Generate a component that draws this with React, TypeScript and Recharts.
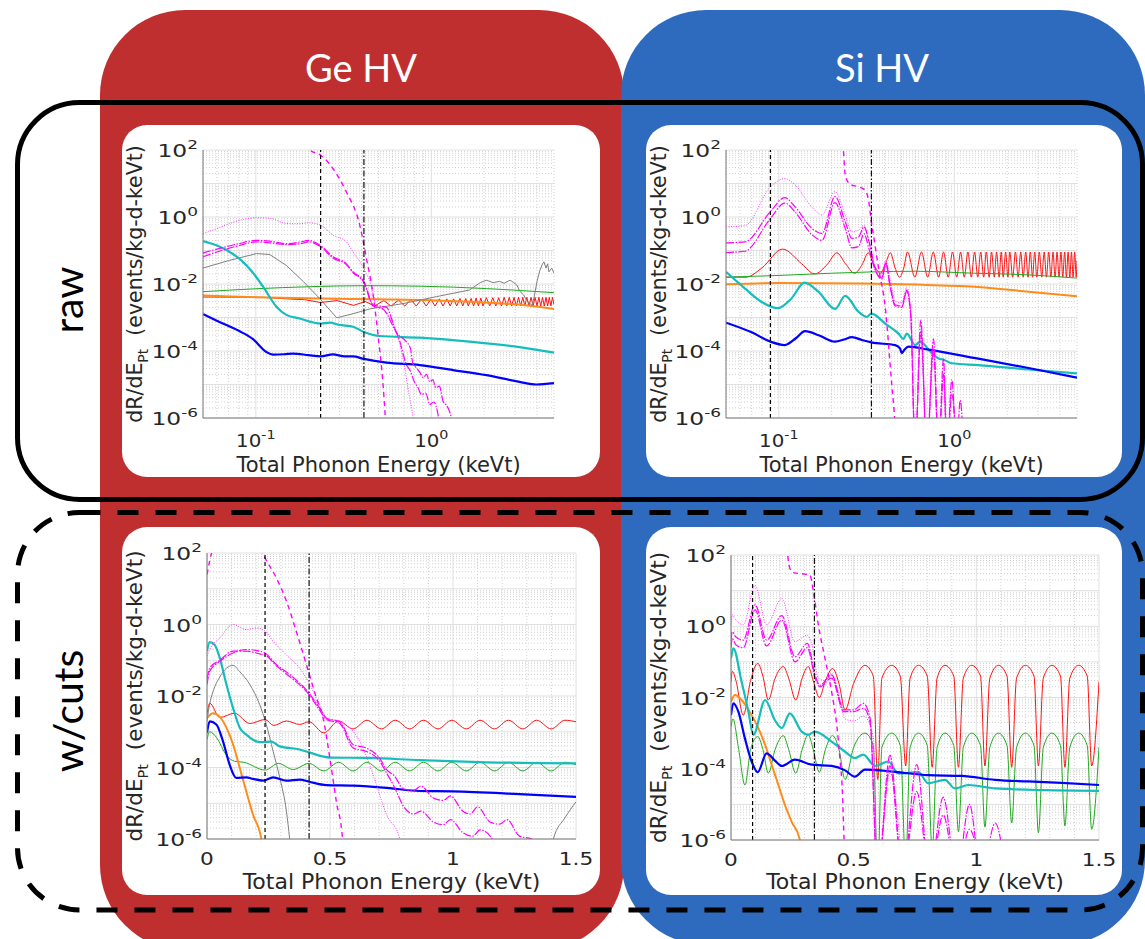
import React from "react";
import { LineChart, Line, XAxis, YAxis, CartesianGrid, ReferenceLine } from "recharts";

type Pt = [number, number];

// ---------- Ge HV, raw (log energy axis) ----------
const geRawBlue: Pt[] = [[0.05,1.26e-3],[0.062,7.4e-4],[0.08,4.0e-4],[0.096,2.3e-4],[0.115,9.3e-5],[0.125,7.8e-5],[0.145,8.0e-5],[0.163,8.4e-5],[0.2,7.5e-5],[0.234,6.9e-5],[0.275,7.9e-5],[0.32,6.9e-5],[0.358,6.9e-5],[0.413,5.8e-5],[0.555,4.5e-5],[0.86,3.8e-5],[1.33,2.7e-5],[2.06,1.9e-5],[3.18,1.2e-5],[3.96,1.0e-5],[5,1.1e-5]];
const geRawCyan: Pt[] = [[0.05,0.19],[0.06,0.14],[0.071,0.09],[0.083,0.05],[0.096,0.022],[0.11,8.3e-3],[0.131,2.1e-3],[0.149,1.2e-3],[0.178,9.3e-4],[0.234,6.6e-4],[0.264,7.0e-4],[0.3,6.0e-4],[0.358,5.3e-4],[0.413,3.7e-4],[0.508,2.8e-4],[0.86,2.5e-4],[1.65,1.9e-4],[3.18,1.3e-4],[5,8.9e-5]];
const geRawGreen: Pt[] = [[0.05,5.9e-3],[0.1,7.2e-3],[0.2,8.3e-3],[0.41,8.9e-3],[0.86,8.6e-3],[2.06,7.3e-3],[5,5.5e-3]];
const geRawOrange: Pt[] = [[0.05,4.5e-3],[0.1,4.0e-3],[0.234,3.7e-3],[0.5,3.5e-3],[1,3.3e-3],[2,2.8e-3],[3.5,2.3e-3],[5,1.8e-3]];
const geRawRed: Pt[] = [[0.05,4.1e-3],[0.11,4.0e-3],[0.15,3.6e-3],[0.19,3.4e-3],[0.234,2.8e-3],[0.29,3.2e-3],[0.36,2.3e-3],[0.42,3.0e-3],[0.475,2.2e-3],[0.535,3.2e-3],[0.59,2.2e-3],[0.65,3.3e-3],[0.705,2.2e-3],[0.765,3.4e-3],[0.82,2.2e-3],[0.88,3.5e-3],[0.935,2.2e-3],[0.995,3.5e-3],[1.05,2.2e-3],[1.11,3.6e-3],[1.165,2.2e-3],[1.225,3.6e-3],[1.28,2.2e-3],[1.34,3.6e-3],[1.395,2.2e-3],[1.455,3.7e-3],[1.51,2.2e-3],[1.57,3.7e-3],[1.625,2.2e-3],[1.685,3.7e-3],[1.74,2.2e-3],[1.8,3.8e-3],[1.855,2.2e-3],[1.915,3.8e-3],[1.97,2.2e-3],[2.06,3.9e-3],[2.15,2.2e-3],[2.24,3.9e-3],[2.33,2.2e-3],[2.42,3.9e-3],[2.51,2.2e-3],[2.6,4.0e-3],[2.69,2.2e-3],[2.78,4.0e-3],[2.87,2.2e-3],[2.96,4.0e-3],[3.05,2.2e-3],[3.14,4.0e-3],[3.23,2.2e-3],[3.32,4.0e-3],[3.41,2.2e-3],[3.5,4.0e-3],[3.6,2.2e-3],[3.7,4.0e-3],[3.8,2.2e-3],[3.9,4.0e-3],[4.0,2.2e-3],[4.1,4.0e-3],[4.2,2.2e-3],[4.3,4.0e-3],[4.4,2.2e-3],[4.5,4.0e-3],[4.6,2.2e-3],[4.7,4.0e-3],[4.8,2.2e-3],[4.9,4.0e-3],[5,2.4e-3]];
const geRawGray: Pt[] = [[0.05,0.03],[0.071,0.051],[0.101,0.081],[0.12,0.076],[0.149,0.036],[0.186,0.012],[0.231,3.7e-3],[0.289,9.8e-4],[0.358,1.3e-3],[0.446,1.8e-3],[0.69,2.6e-3],[1.07,4.2e-3],[1.65,6.6e-3],[1.9,0.011],[2.06,0.013],[2.25,0.011],[2.45,0.012],[2.6,0.0105],[2.81,0.013],[2.95,0.011],[3.07,9.3e-3],[3.2,6.0e-3],[3.36,4.7e-3],[3.5,3.2e-3],[3.75,2.3e-3],[3.85,4.0e-3],[4.0,0.012],[4.15,0.025],[4.3,0.04],[4.38,0.046],[4.5,0.03],[4.6,0.04],[4.68,0.023],[4.85,0.03],[5,0.021]];
const geRawMagDot: Pt[] = [[0.05,0.32],[0.06,0.45],[0.07,0.62],[0.085,0.85],[0.1,0.95],[0.12,0.92],[0.149,0.64],[0.175,0.63],[0.2,0.67],[0.234,0.57],[0.275,0.29],[0.328,0.18],[0.358,0.09],[0.413,0.029],[0.446,0.012],[0.486,2.3e-3],[0.55,1.5e-3],[0.632,3.7e-4],[0.69,6.0e-5],[0.753,3.8e-6],[0.787,1e-6],[0.82,1e-7]];
const geRawMagDD1: Pt[] = [[0.05,0.085],[0.06,0.11],[0.08,0.16],[0.1,0.2],[0.12,0.19],[0.149,0.16],[0.18,0.18],[0.2,0.2],[0.234,0.14],[0.275,0.065],[0.328,0.04],[0.358,0.023],[0.413,0.012],[0.466,2.4e-3],[0.555,2.0e-3],[0.632,3.7e-4],[0.72,1.9e-4],[0.76,1.2e-4],[0.787,4.0e-5],[0.82,3.2e-5],[0.86,2.3e-5],[0.9,1.6e-5],[0.938,2.0e-5],[0.98,1.2e-5],[1.02,1.4e-5],[1.06,8.0e-6],[1.11,9.0e-6],[1.17,3.0e-6],[1.22,2.4e-6],[1.3,1e-6],[1.35,1e-7]];
const geRawMagDD2: Pt[] = [[0.05,0.065],[0.06,0.09],[0.08,0.14],[0.1,0.18],[0.12,0.17],[0.149,0.15],[0.18,0.16],[0.2,0.18],[0.234,0.13],[0.275,0.06],[0.328,0.038],[0.358,0.022],[0.413,0.011],[0.466,2.2e-3],[0.53,1.8e-3],[0.6,6.0e-4],[0.66,2.0e-4],[0.72,4.0e-5],[0.76,2.5e-5],[0.8,1.2e-5],[0.84,8.0e-6],[0.88,5.0e-6],[0.93,5.5e-6],[0.98,2.5e-6],[1.03,3.0e-6],[1.1,1e-6],[1.15,1e-7]];
const geRawMagDash: Pt[] = [[0.19,300],[0.203,100],[0.234,70],[0.275,28],[0.328,5.6],[0.391,0.57],[0.427,0.058],[0.466,4.7e-3],[0.497,3.0e-4],[0.531,9.5e-6],[0.547,1e-6],[0.56,1e-7]];

// ---------- Si HV, raw (log energy axis) ----------
const siRawBlue: Pt[] = [[0.05,7.0e-4],[0.07,3.6e-4],[0.0895,1.9e-4],[0.108,1.5e-4],[0.125,2.4e-4],[0.141,3.9e-4],[0.17,2.9e-4],[0.209,1.9e-4],[0.235,2.2e-4],[0.261,2.6e-4],[0.3,2.1e-4],[0.337,1.8e-4],[0.46,1.5e-4],[0.49,1.2e-4],[0.502,8.7e-5],[0.52,1.1e-4],[0.548,1.35e-4],[0.713,1.1e-4],[1.37,5.9e-5],[2.65,3.1e-5],[5,1.6e-5]];
const siRawCyan: Pt[] = [[0.05,0.023],[0.064,7.4e-3],[0.08,2.9e-3],[0.099,1.9e-3],[0.118,3.7e-3],[0.14,0.011],[0.168,5.9e-3],[0.209,1.8e-3],[0.239,4.4e-3],[0.284,1.5e-3],[0.317,1.05e-3],[0.337,1.3e-3],[0.404,6.6e-4],[0.481,3.3e-4],[0.513,2.3e-4],[0.536,3.3e-4],[0.598,1.5e-4],[0.638,1.9e-4],[0.744,8.6e-5],[0.813,6.0e-5],[0.87,5.5e-5],[0.968,4.3e-5],[1.37,3.8e-5],[2.65,2.8e-5],[5,2.15e-5]];
const siRawGreen: Pt[] = [[0.05,0.016],[0.1,0.018],[0.2,0.021],[0.34,0.023],[0.6,0.024],[1.3,0.021],[2.5,0.019],[5,0.015]];
const siRawOrange: Pt[] = [[0.05,9.8e-3],[0.1,0.0107],[0.3,0.0103],[0.6,9.6e-3],[1.3,8.3e-3],[2.65,5.9e-3],[5,4.3e-3]];
const siRawRed: Pt[] = [[0.05,0.016],[0.065,0.016],[0.08,0.03],[0.105,0.11],[0.135,0.04],[0.16,0.02],[0.19,0.04],[0.214,0.085],[0.24,0.04],[0.27,0.021],[0.3,0.04],[0.323,0.085],[0.35,0.035],[0.38,0.021],[0.405,0.04],[0.432,0.085],[0.46,0.03],[0.487,0.016],[0.515,0.03],[0.541,0.09],[0.596,0.016],[0.65,0.09],[0.705,0.016],[0.759,0.09],[0.814,0.016],[0.868,0.09],[0.923,0.016],[0.977,0.09],[1.032,0.016],[1.086,0.09],[1.14,0.016],[1.195,0.09],[1.25,0.016],[1.304,0.09],[1.36,0.016],[1.413,0.09],[1.47,0.016],[1.52,0.09],[1.58,0.016],[1.63,0.09],[1.69,0.016],[1.74,0.09],[1.8,0.016],[1.85,0.09],[1.9,0.016],[1.96,0.09],[2.02,0.016],[2.07,0.09],[2.15,0.016],[2.23,0.09],[2.31,0.016],[2.39,0.09],[2.47,0.016],[2.55,0.09],[2.63,0.016],[2.71,0.09],[2.79,0.016],[2.87,0.09],[2.95,0.016],[3.05,0.09],[3.15,0.016],[3.25,0.09],[3.35,0.016],[3.45,0.09],[3.55,0.016],[3.65,0.09],[3.75,0.016],[3.85,0.09],[3.95,0.016],[4.05,0.09],[4.15,0.016],[4.25,0.09],[4.35,0.016],[4.45,0.09],[4.55,0.016],[4.65,0.09],[4.75,0.016],[4.85,0.09],[4.95,0.016],[5,0.05]];
const siRawMagDot: Pt[] = [[0.05,0.51],[0.064,0.55],[0.0895,7.9],[0.108,14],[0.124,9],[0.154,2.0],[0.176,1.15],[0.209,5.7],[0.239,1.15],[0.261,0.36],[0.284,0.4],[0.306,0.57],[0.32,0.29],[0.337,0.1],[0.354,0.03],[0.386,0.02],[0.407,0.05],[0.431,0.013],[0.46,3.0e-3],[0.502,2.8e-3],[0.536,8.0e-3],[0.565,1.6e-3],[0.598,1e-7],[0.644,3.0e-4],[0.697,1e-7],[0.761,8.0e-5],[0.813,1e-7],[0.868,1.5e-5],[0.907,1e-7]];
const siRawMagDD1: Pt[] = [[0.05,0.17],[0.064,0.18],[0.0895,1.45],[0.108,3.8],[0.124,2.0],[0.154,0.46],[0.176,0.32],[0.209,4.1],[0.239,0.72],[0.261,0.23],[0.284,0.25],[0.306,0.51],[0.325,0.2],[0.354,0.029],[0.386,0.015],[0.407,0.044],[0.431,9.0e-3],[0.46,2.4e-3],[0.502,2.2e-3],[0.536,6.6e-3],[0.565,1.2e-3],[0.598,1e-7],[0.644,8.3e-4],[0.697,1e-7],[0.761,2.3e-4],[0.813,1e-7],[0.868,6.0e-5],[0.907,1e-7],[0.968,1.4e-5],[1.03,1e-7],[1.08,3.4e-6],[1.13,1e-7]];
const siRawMagDD2: Pt[] = [[0.05,0.087],[0.064,0.095],[0.0895,0.9],[0.108,2.6],[0.124,1.4],[0.154,0.3],[0.176,0.2],[0.209,2.7],[0.239,0.45],[0.261,0.12],[0.284,0.13],[0.306,0.32],[0.325,0.12],[0.354,0.026],[0.386,0.014],[0.407,0.04],[0.431,8.0e-3],[0.46,2.2e-3],[0.502,2.0e-3],[0.536,6.0e-3],[0.565,1.0e-3],[0.598,1e-7],[0.644,4.0e-4],[0.697,1e-7],[0.761,1.2e-4],[0.813,1e-7],[0.868,2.0e-5],[0.907,1e-7],[0.968,5.0e-6],[1.03,1e-7]];
const siRawMagDash: Pt[] = [[0.22,300],[0.233,100],[0.239,18],[0.255,9.4],[0.284,8],[0.31,6.3],[0.325,3],[0.337,0.7],[0.35,0.2],[0.37,0.03],[0.404,2.0e-3],[0.44,1.0e-5],[0.457,1e-6],[0.47,1e-7]];

// ---------- Ge HV, with cuts (linear energy axis) ----------
const geCutBlue: Pt[] = [[0,9.4e-4],[0.011,1.95e-3],[0.038,1.6e-3],[0.065,5.4e-4],[0.092,1.2e-4],[0.119,5.1e-5],[0.16,5.3e-5],[0.187,4.8e-5],[0.228,4.3e-5],[0.269,5.3e-5],[0.323,4.3e-5],[0.377,4.6e-5],[0.415,4.0e-5],[0.486,3.2e-5],[0.594,3.1e-5],[0.73,2.7e-5],[0.865,2.2e-5],[1.0,2.15e-5],[1.27,1.8e-5],[1.5,1.5e-5]];
const geCutCyan: Pt[] = [[0,0.18],[0.011,0.32],[0.031,0.27],[0.052,0.115],[0.079,0.021],[0.106,4.6e-3],[0.133,1.3e-3],[0.16,8.3e-4],[0.214,5.1e-4],[0.262,5.3e-4],[0.296,3.9e-4],[0.377,3.2e-4],[0.418,2.6e-4],[0.499,1.9e-4],[0.662,1.85e-4],[0.865,1.6e-4],[1.137,1.4e-4],[1.5,1.3e-4]];
const geCutGreen: Pt[] = [[0,6.0e-4],[0.011,1.0e-3],[0.038,7.0e-4],[0.079,2.2e-4],[0.112,1.5e-4],[0.15,1.4e-4],[0.236,8.5e-5],[0.29,1.3e-4],[0.35,8.8e-5],[0.415,1.3e-4],[0.475,8.0e-5],[0.535,1.4e-4],[0.594,8.0e-5],[0.65,1.4e-4],[0.709,8.0e-5],[0.765,1.4e-4],[0.824,8.0e-5],[0.88,1.4e-4],[0.939,8.0e-5],[0.995,1.4e-4],[1.054,8.0e-5],[1.11,1.4e-4],[1.169,8.0e-5],[1.225,1.4e-4],[1.284,8.0e-5],[1.34,1.4e-4],[1.399,8.0e-5],[1.455,1.4e-4],[1.5,1.2e-4]];
const geCutOrange: Pt[] = [[0,2.4e-3],[0.024,3.3e-3],[0.052,2.6e-3],[0.079,1.3e-3],[0.106,4.4e-4],[0.133,9.8e-5],[0.16,2.1e-5],[0.187,4.8e-6],[0.221,1e-6],[0.24,1e-7]];
const geCutRed: Pt[] = [[0,3.0e-3],[0.011,6.3e-3],[0.052,2.5e-3],[0.112,3.3e-3],[0.174,1.7e-3],[0.236,2.2e-3],[0.271,1.5e-3],[0.323,2.0e-3],[0.377,1.6e-3],[0.415,1.9e-3],[0.475,9.3e-4],[0.535,2.0e-3],[0.594,1.2e-3],[0.65,2.1e-3],[0.709,1.2e-3],[0.765,2.1e-3],[0.824,1.2e-3],[0.88,2.1e-3],[0.939,1.2e-3],[0.995,2.1e-3],[1.054,1.2e-3],[1.11,2.1e-3],[1.169,1.2e-3],[1.225,2.1e-3],[1.284,1.2e-3],[1.34,2.1e-3],[1.399,1.2e-3],[1.455,2.1e-3],[1.5,1.9e-3]];
const geCutGray: Pt[] = [[0,2.0e-3],[0.011,6.0e-3],[0.024,0.013],[0.052,0.034],[0.079,0.06],[0.106,0.072],[0.133,0.048],[0.174,0.021],[0.214,5.8e-3],[0.241,1.6e-3],[0.269,2.8e-4],[0.296,5.1e-5],[0.323,5.9e-6],[0.336,1e-6],[0.35,1e-7],[1.39,1e-7],[1.408,1e-6],[1.455,3.9e-6],[1.5,1.1e-5]];
const geCutMagDot: Pt[] = [[0,0.13],[0.011,0.2],[0.052,0.42],[0.106,1.0],[0.16,0.72],[0.2,0.8],[0.236,0.65],[0.269,0.34],[0.323,0.14],[0.377,0.06],[0.415,0.023],[0.445,8.7e-3],[0.486,2.4e-3],[0.54,1.9e-3],[0.58,1.3e-3],[0.621,5.4e-4],[0.675,6.3e-5],[0.73,4.8e-6],[0.784,1e-6],[0.8,1e-7]];
const geCutMagDD1: Pt[] = [[0,0.021],[0.011,0.049],[0.052,0.093],[0.106,0.16],[0.16,0.2],[0.214,0.18],[0.236,0.16],[0.282,0.076],[0.336,0.04],[0.415,0.012],[0.458,4.6e-3],[0.486,2.4e-3],[0.54,1.9e-3],[0.594,4.4e-4],[0.648,3.5e-4],[0.702,1.8e-4],[0.73,8.7e-5],[0.76,6.0e-5],[0.8,2.5e-5],[0.84,2.3e-5],[0.87,3.0e-5],[0.92,1.4e-5],[0.96,1.2e-5],[0.99,1.6e-5],[1.04,6.0e-6],[1.07,5.0e-6],[1.1,8.0e-6],[1.15,3.0e-6],[1.19,2.6e-6],[1.22,3.5e-6],[1.27,1.2e-6],[1.32,1e-6],[1.34,1e-7]];
const geCutMagDD2: Pt[] = [[0,0.03],[0.011,0.06],[0.052,0.1],[0.106,0.18],[0.16,0.18],[0.214,0.15],[0.236,0.14],[0.282,0.07],[0.336,0.035],[0.415,0.011],[0.458,4.0e-3],[0.486,2.2e-3],[0.54,1.7e-3],[0.594,3.5e-4],[0.648,2.8e-4],[0.702,1.5e-4],[0.73,7.0e-5],[0.76,3.0e-5],[0.8,8.0e-6],[0.84,5.0e-6],[0.87,6.0e-6],[0.92,3.0e-6],[0.96,2.5e-6],[0.99,3.5e-6],[1.04,1.5e-6],[1.08,1.2e-6],[1.11,1.8e-6],[1.16,1e-6],[1.2,1e-7]];
const geCutMagDash: Pt[] = [[0,25],[0.011,60],[0.03,200],[0.1,2000],[0.19,300],[0.236,72],[0.282,20],[0.323,4.5],[0.363,0.64],[0.404,0.076],[0.445,8.7e-3],[0.472,2.4e-3],[0.499,1.9e-4],[0.526,1.1e-5],[0.551,1e-6],[0.56,1e-7]];

// ---------- Si HV, with cuts (linear energy axis) ----------
const siCutBlue: Pt[] = [[0,3.2e-3],[0.0095,6.9e-3],[0.03,4.0e-3],[0.057,7.0e-4],[0.084,1.6e-4],[0.109,8.0e-5],[0.145,2.7e-4],[0.179,1.7e-4],[0.207,1.2e-4],[0.261,1.8e-4],[0.329,1.3e-4],[0.41,1.2e-4],[0.465,9.0e-5],[0.505,6.0e-5],[0.546,9.5e-5],[0.668,8.2e-5],[0.804,6.6e-5],[0.94,6.3e-5],[1.076,4.9e-5],[1.212,4.4e-5],[1.348,4.0e-5],[1.5,3.5e-5]];
const siCutCyan: Pt[] = [[0,0.126],[0.0095,0.24],[0.043,0.028],[0.071,4.0e-3],[0.091,8.9e-4],[0.139,8.5e-3],[0.179,2.3e-3],[0.207,1.4e-3],[0.24,3.6e-3],[0.288,1.1e-3],[0.315,9.0e-4],[0.342,1.1e-3],[0.41,5.8e-4],[0.465,3.0e-4],[0.505,2.0e-4],[0.539,2.5e-4],[0.587,1.2e-4],[0.641,1.6e-4],[0.682,7.4e-5],[0.764,8.0e-5],[0.804,3.9e-5],[0.872,4.9e-5],[0.913,2.8e-5],[0.967,3.5e-5],[1.076,2.8e-5],[1.28,2.5e-5],[1.5,2.4e-5]];
const siCutOrange: Pt[] = [[0,7.6e-3],[0.016,0.0117],[0.043,8.5e-3],[0.084,3.2e-3],[0.111,1.4e-3],[0.139,4.7e-4],[0.166,1.3e-4],[0.193,3.5e-5],[0.22,9.6e-6],[0.247,3.3e-6],[0.281,1e-6],[0.3,1e-7]];
const siCutRed: Pt[] = [[0,0.028],[0.006,0.054],[0.02,0.03],[0.05,3.2e-3],[0.08,0.03],[0.109,0.091],[0.13,0.04],[0.152,8.5e-3],[0.18,0.035],[0.213,0.074],[0.235,0.035],[0.264,8.5e-3],[0.29,0.035],[0.315,0.074],[0.335,0.03],[0.36,0.01],[0.385,0.03],[0.414,0.065],[0.44,0.025],[0.465,4.5e-3],[0.5,0.025],[0.546,0.08],[0.58,0.04],[0.598,5.0e-5],[0.615,0.035],[0.655,0.08],[0.69,0.04],[0.712,1.2e-4],[0.73,0.035],[0.764,0.08],[0.8,0.04],[0.82,1.1e-4],[0.84,0.035],[0.872,0.08],[0.908,0.04],[0.927,1.1e-4],[0.947,0.035],[0.981,0.08],[1.017,0.04],[1.035,1.2e-4],[1.055,0.035],[1.09,0.08],[1.125,0.04],[1.144,1.1e-4],[1.164,0.035],[1.2,0.08],[1.235,0.04],[1.253,1.2e-4],[1.273,0.035],[1.308,0.08],[1.343,0.04],[1.361,1.1e-4],[1.381,0.035],[1.417,0.08],[1.452,0.04],[1.47,1.2e-4],[1.5,0.028]];
const siCutGreen: Pt[] = [[0,1.5e-3],[0.008,2.5e-3],[0.03,4.0e-4],[0.057,3.5e-5],[0.08,3.5e-4],[0.109,8.0e-4],[0.13,3.5e-4],[0.152,7.5e-5],[0.18,3.5e-4],[0.213,8.5e-4],[0.235,3.5e-4],[0.264,7.5e-5],[0.29,3.5e-4],[0.315,9.0e-4],[0.335,3.5e-4],[0.36,8.0e-5],[0.385,3.5e-4],[0.414,8.5e-4],[0.44,3.5e-4],[0.465,5.0e-5],[0.5,4.0e-4],[0.546,1.0e-3],[0.58,4.5e-4],[0.598,1e-7],[0.615,4.0e-4],[0.655,1.0e-3],[0.69,4.5e-4],[0.712,2e-7],[0.73,4.0e-4],[0.764,1.0e-3],[0.8,4.5e-4],[0.82,5e-7],[0.84,4.0e-4],[0.872,1.0e-3],[0.908,4.5e-4],[0.927,1.7e-6],[0.947,4.0e-4],[0.981,1.0e-3],[1.017,4.5e-4],[1.035,2.3e-6],[1.055,4.0e-4],[1.09,1.0e-3],[1.125,4.5e-4],[1.144,3.0e-6],[1.164,4.0e-4],[1.2,1.0e-3],[1.235,4.5e-4],[1.253,1.6e-6],[1.273,4.0e-4],[1.308,1.0e-3],[1.343,4.5e-4],[1.361,2.5e-6],[1.381,4.0e-4],[1.417,1.0e-3],[1.452,4.5e-4],[1.47,2.0e-6],[1.5,4.0e-4]];
const siCutMagDot: Pt[] = [[0,1.1],[0.005,2.1],[0.02,1.5],[0.05,1.1],[0.098,14],[0.145,1.1],[0.207,6],[0.26,0.37],[0.31,0.56],[0.33,0.3],[0.356,0.035],[0.383,0.03],[0.41,0.048],[0.44,0.012],[0.465,2.5e-3],[0.5,2.2e-3],[0.54,3.0e-3],[0.58,8.0e-4],[0.597,1e-7],[0.648,8.0e-5],[0.7,1e-7]];
const siCutMagDD1: Pt[] = [[0,0.41],[0.005,0.7],[0.02,0.5],[0.05,0.41],[0.098,4.0],[0.145,0.41],[0.207,2.0],[0.261,0.14],[0.311,0.33],[0.343,0.043],[0.362,0.022],[0.41,0.043],[0.46,4.5e-3],[0.5,4.5e-3],[0.54,6.8e-3],[0.567,2.6e-3],[0.597,1e-7],[0.648,2.4e-4],[0.7,1e-7],[0.757,1.3e-4],[0.81,1e-7],[0.865,1.6e-5],[0.92,1e-7],[0.972,1.0e-5],[1.02,1e-7],[1.077,3.0e-6],[1.12,1e-7]];
const siCutMagDD2: Pt[] = [[0,0.25],[0.005,0.45],[0.02,0.3],[0.05,0.25],[0.098,2.9],[0.145,0.28],[0.207,1.5],[0.261,0.1],[0.311,0.25],[0.343,0.035],[0.362,0.02],[0.41,0.035],[0.46,4.0e-3],[0.5,4.0e-3],[0.54,5.0e-3],[0.567,2.0e-3],[0.597,1e-7],[0.648,1.2e-4],[0.7,1e-7],[0.757,2.3e-5],[0.81,1e-7],[0.865,5.0e-6],[0.92,1e-7],[0.972,2.0e-6],[1.02,1e-7]];
const siCutMagDash: Pt[] = [[0.225,300],[0.231,100],[0.24,42],[0.254,32],[0.302,29],[0.322,27],[0.336,9.4],[0.356,1.1],[0.383,0.126],[0.41,0.0145],[0.431,1.7e-3],[0.444,1.9e-4],[0.454,2.3e-5],[0.461,1e-6],[0.47,1e-7]];

// threshold markers (dashed, dash-dot) per panel
const geRawCuts = [0.234, 0.413];
const siRawCuts = [0.0895, 0.337];
const geCutCuts = [0.236, 0.415];
const siCutCuts = [0.088, 0.34];

// axes
const Y_TICKS = [1e-6, 1e-4, 1e-2, 1, 100];
const Y_DECADES = [1e-6, 1e-5, 1e-4, 1e-3, 1e-2, 1e-1, 1, 10, 100];
const Y_MINOR = Y_DECADES.slice(0, -1).flatMap((d) => [2, 3, 4, 5, 6, 7, 8, 9].map((m) => m * d));
const LOG_X_TICKS = [0.1, 1];
const LOG_X_MINOR = [0.05, 0.06, 0.07, 0.08, 0.09, 0.2, 0.3, 0.4, 0.5, 0.6, 0.7, 0.8, 0.9, 2, 3, 4, 5];
const LIN_X_TICKS = [0, 0.5, 1, 1.5];
const LIN_X_MINOR = [0.1, 0.2, 0.3, 0.4, 0.6, 0.7, 0.8, 0.9, 1.1, 1.2, 1.3, 1.4];

const FONT = "'DejaVu Sans', sans-serif";
const TITLE_FONT = "Lato, 'Open Sans', sans-serif";
const INK = "#262626";
const RED_BG = "#bf2f2f";
const BLUE_BG = "#2e6bbf";

const STYLE: Record<string, any> = {
  blue: { stroke: "#0000ff", strokeWidth: 2.2 },
  cyan: { stroke: "#17bdbd", strokeWidth: 2.2 },
  green: { stroke: "#1faa1f", strokeWidth: 1 },
  orange: { stroke: "#ff8c1a", strokeWidth: 2 },
  red: { stroke: "#ff1010", strokeWidth: 1 },
  gray: { stroke: "#808080", strokeWidth: 1 },
  magDot: { stroke: "#ff33ff", strokeWidth: 1, strokeDasharray: "1 1.5" },
  magDD: { stroke: "#ff00ff", strokeWidth: 1.2, strokeDasharray: "8 1.5 1.5 1.5" },
  magDash: { stroke: "#ff00ff", strokeWidth: 1.4, strokeDasharray: "5 4" },
};

type Series = { name: string; pts: Pt[]; style: string; curve?: "monotone" | "linear" };

function YTick(props: any) {
  const { x, y, payload } = props;
  const e = Math.round(Math.log10(payload.value));
  // the source figure's tick labels are noticeably wide, so stretch them a little
  return (
    <text transform={`translate(${x},${y + 7}) scale(1.3,1)`} textAnchor="end" fontFamily={FONT} fontSize={18} fill={INK}>
      10<tspan dy={-8} fontSize={13}>{e}</tspan>
    </text>
  );
}

function XTick(props: any) {
  const { x, y, payload, log } = props;
  if (log) {
    const e = Math.round(Math.log10(payload.value));
    return (
      <text transform={`translate(${x},${y + 29}) scale(1.1,1)`} textAnchor="middle" fontFamily={FONT} fontSize={18} fill={INK}>
        10<tspan dy={-8} fontSize={13}>{e}</tspan>
      </text>
    );
  }
  return (
    <text transform={`translate(${x},${y + 26}) scale(1.2,1)`} textAnchor="middle" fontFamily={FONT} fontSize={18} fill={INK}>
      {payload.value}
    </text>
  );
}

function XTitle(props: any) {
  const { viewBox, dy, size } = props;
  if (!viewBox) return null;
  return (
    <text x={viewBox.x + viewBox.width / 2} y={viewBox.y + dy} textAnchor="middle" fontFamily={FONT} fontSize={size} fill={INK}>
      Total Phonon Energy (keVt)
    </text>
  );
}

function YTitle(props: any) {
  const { viewBox, size } = props;
  if (!viewBox) return null;
  const cy = viewBox.y + viewBox.height / 2;
  return (
    <text transform={`translate(${viewBox.x + 20},${cy}) rotate(-90)`} textAnchor="middle" fontFamily={FONT} fontSize={size} fill={INK}>
      dR/dE<tspan dy={6} fontSize={size * 0.68}>Pt</tspan>
      <tspan dy={-6}>{"\u00a0\u00a0(events/kg-d-keVt)"}</tspan>
    </text>
  );
}

type PanelProps = {
  left: number; top: number; width: number; height: number;
  yAxisW: number; xAxisH: number; mTop: number; mRight: number;
  logX: boolean; titleDy: number; titleSize: number; series: Series[]; cuts: number[];
};

function Panel({ left, top, width, height, yAxisW, xAxisH, mTop, mRight, logX, titleDy, titleSize, series, cuts }: PanelProps) {
  return (
    <div style={{ position: "absolute", left, top }}>
      <LineChart width={width} height={height} margin={{ top: mTop, right: mRight, bottom: 0, left: 0 }}>
        <CartesianGrid horizontalValues={Y_MINOR} verticalValues={logX ? LOG_X_MINOR : LIN_X_MINOR} stroke="#d2d2d2" strokeDasharray="1 2" />
        <CartesianGrid horizontalValues={Y_DECADES} verticalValues={logX ? LOG_X_TICKS : LIN_X_TICKS} stroke="#e0e0e0" />
        <XAxis
          dataKey="x" type="number" scale={logX ? "log" : "linear"}
          domain={logX ? [0.05, 5] : [0, 1.5]} ticks={logX ? LOG_X_TICKS : LIN_X_TICKS}
          allowDataOverflow interval={0} height={xAxisH} tickSize={0} tickMargin={0}
          stroke="#7a7a7a" tick={<XTick log={logX} />} label={<XTitle dy={titleDy} size={titleSize} />}
        />
        <YAxis
          type="number" scale="log" domain={[1e-6, 100]} ticks={Y_TICKS}
          allowDataOverflow interval={0} width={yAxisW} tickSize={0} tickMargin={5}
          stroke="#7a7a7a" tick={<YTick />} label={<YTitle size={titleSize - 0.5} />}
        />
        {series.map((s) => (
          <Line
            key={s.name} data={s.pts.map(([x, y]) => ({ x, y }))} dataKey="y"
            type={s.curve ?? "monotone"} dot={false} activeDot={false}
            isAnimationActive={false} {...STYLE[s.style]}
          />
        ))}
        <ReferenceLine x={cuts[0]} stroke="#000" strokeWidth={1.2} strokeDasharray="4 3" />
        <ReferenceLine x={cuts[1]} stroke="#111" strokeWidth={1.2} strokeDasharray="6 2 1.5 2" />
      </LineChart>
    </div>
  );
}

const ORDER = ["red", "green", "orange", "gray", "cyan", "blue", "magDot", "magDD2", "magDD1", "magDash"];

const mk = (prefix: string, d: Record<string, Pt[]>, linear: string[] = []): Series[] =>
  ORDER.filter((k) => d[k]).map((k) => ({
    name: prefix + k,
    pts: d[k],
    style: k.startsWith("magDD") ? "magDD" : k,
    curve: linear.includes(k) ? "linear" : "monotone",
  }));

const geRawSeries = mk("gr", { red: geRawRed, green: geRawGreen, orange: geRawOrange, gray: geRawGray, cyan: geRawCyan, blue: geRawBlue, magDot: geRawMagDot, magDD2: geRawMagDD2, magDD1: geRawMagDD1, magDash: geRawMagDash }, ["red", "gray"]);
const siRawSeries = mk("sr", { red: siRawRed, green: siRawGreen, orange: siRawOrange, cyan: siRawCyan, blue: siRawBlue, magDot: siRawMagDot, magDD2: siRawMagDD2, magDD1: siRawMagDD1, magDash: siRawMagDash });
const geCutSeries = mk("gc", { red: geCutRed, green: geCutGreen, orange: geCutOrange, gray: geCutGray, cyan: geCutCyan, blue: geCutBlue, magDot: geCutMagDot, magDD2: geCutMagDD2, magDD1: geCutMagDD1, magDash: geCutMagDash });
const siCutSeries = mk("sc", { red: siCutRed, green: siCutGreen, orange: siCutOrange, cyan: siCutCyan, blue: siCutBlue, magDot: siCutMagDot, magDD2: siCutMagDD2, magDD1: siCutMagDD1, magDash: siCutMagDash });

export default function App() {
  return (
    <div style={{ position: "absolute", left: 0, top: 0, width: 1145, height: 939, overflow: "hidden", background: "#fff" }}>
      <svg width={1145} height={939} style={{ position: "absolute", left: 0, top: 0 }}>
        <rect x={100} y={10} width={524} height={940} rx={85} fill={RED_BG} />
        <rect x={621} y={10} width={524} height={935} rx={85} fill={BLUE_BG} />
        <text x={361} y={82} textAnchor="middle" fill="#fff" fontFamily={TITLE_FONT} fontSize={38}>Ge HV</text>
        <text x={882} y={82} textAnchor="middle" fill="#fff" fontFamily={TITLE_FONT} fontSize={38}>Si HV</text>
        <rect x={17.5} y={102.5} width={1125} height={397} rx={62} fill="none" stroke="#000" strokeWidth={5} />
        <rect x={17.5} y={512.5} width={1125} height={397.5} rx={62} fill="none" stroke="#000" strokeWidth={5} strokeDasharray="21 17" />
        <text transform="translate(83,300) rotate(-90)" textAnchor="middle" fill="#000" fontFamily={TITLE_FONT} fontSize={41}>raw</text>
        <text transform="translate(83,711) rotate(-90)" textAnchor="middle" fill="#000" fontFamily={TITLE_FONT} fontSize={41}>w/cuts</text>
        <rect x={122} y={125} width={478} height={352} rx={25} fill="#fff" />
        <rect x={646} y={125} width={476} height={352} rx={25} fill="#fff" />
        <rect x={122} y={527} width={478} height={368} rx={25} fill="#fff" />
        <rect x={646} y={527} width={476} height={368} rx={25} fill="#fff" />
      </svg>
      <Panel left={122} top={125} width={478} height={352} yAxisW={81} xAxisH={59} mTop={25} mRight={46} logX titleDy={54} titleSize={21} series={geRawSeries} cuts={geRawCuts} />
      <Panel left={646} top={125} width={476} height={352} yAxisW={80} xAxisH={59} mTop={25} mRight={45} logX titleDy={54} titleSize={21} series={siRawSeries} cuts={siRawCuts} />
      <Panel left={122} top={527} width={478} height={368} yAxisW={85} xAxisH={56} mTop={26} mRight={24} logX={false} titleDy={50} titleSize={22} series={geCutSeries} cuts={geCutCuts} />
      <Panel left={646} top={527} width={476} height={368} yAxisW={85} xAxisH={55} mTop={28} mRight={23} logX={false} titleDy={49} titleSize={22} series={siCutSeries} cuts={siCutCuts} />
    </div>
  );
}
